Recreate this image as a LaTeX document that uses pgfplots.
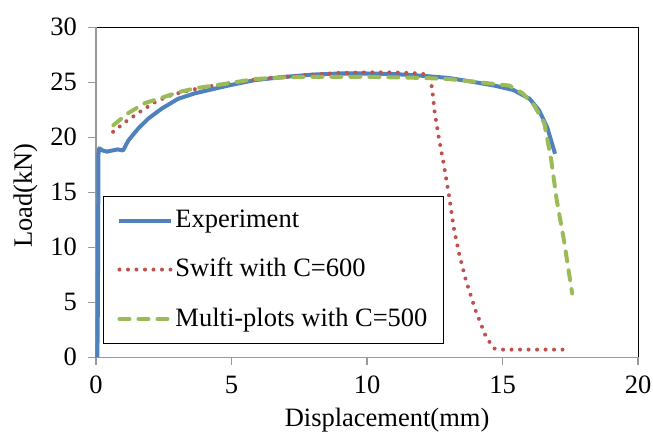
\documentclass[border=0pt]{standalone}
\usepackage{fontspec}
\setmainfont{Liberation Serif}
\usepackage{pgfplots}
\pgfplotsset{compat=1.18}
\definecolor{cblue}{HTML}{4F81BD}
\definecolor{cred}{HTML}{C0504D}
\definecolor{cgreen}{HTML}{9BBB59}
\begin{document}
\fontsize{26.5bp}{31bp}\selectfont
\begin{tikzpicture}
\useasboundingbox (0,0) rectangle (653bp,437bp);
\begin{axis}[
  at={(96bp,79.7bp)}, anchor=south west,
  scale only axis, width=542bp, height=330bp,
  xmin=0, xmax=20, ymin=0, ymax=30,
  xtick={0,5,10,15,20}, ytick={0,5,10,15,20,25,30},
  axis lines=left,
  axis line style={-, draw=gray!80, line width=1.2bp},
  axis background/.style={draw=black, line width=1bp},
  tick align=outside,
  major tick length=8bp,
  tick style={draw=gray!80, line width=1.2bp},
  /pgf/number format/assume math mode=true,
  ticklabel style={font=\fontsize{26.5bp}{31bp}\selectfont},
  xticklabel style={anchor=north, yshift=-2bp},
  yticklabel style={anchor=east, xshift=-2bp},
  xlabel={Displacement(mm)},
  ylabel={Load(kN)},
  xlabel style={at={(axis description cs:0.537,-0.19)}, anchor=center, font=\fontsize{26.5bp}{31bp}\selectfont},
  ylabel style={at={(axis description cs:-0.13,0.49)}, anchor=center, rotate=0, font=\fontsize{26.5bp}{31bp}\selectfont},
  legend style={at={(axis description cs:0.0129,0.488)}, anchor=north west,
    draw=black, line width=1bp, fill=white,
    font=\fontsize{26.5bp}{31bp}\selectfont,
    inner xsep=14bp, inner ysep=11bp, row sep=23bp},
  legend cell align=left,
  legend image code/.code={\draw[#1] (0bp,0bp) -- (52bp,0bp);},
  clip=false,
]
\addplot[cblue, line width=4bp, line join=round] coordinates {
(0.05,0) (0.07,5) (0.08,12) (0.09,18.5) (0.12,19.0) (0.25,18.8) (0.4,18.7) (0.6,18.8) (0.8,18.9) (1.0,18.8)
(1.19,19.7) (1.56,20.8) (1.93,21.7) (2.42,22.6) (3.03,23.5) (3.65,24.0) (4.87,24.7) (5.86,25.2) (7.0,25.5)
(8.0,25.7) (9.0,25.8) (10,25.8) (11,25.75) (12,25.6) (13,25.4) (14,25.0) (14.7,24.7) (15.4,24.3)
(16.0,23.5) (16.35,22.45) (16.65,20.9) (16.94,18.5)
};
\addlegendentry{Experiment}
\addplot[cred, line width=4bp, line cap=round, dash pattern=on 0bp off 8.5bp] coordinates {
(0.63,20.5) (1.14,21.5) (1.7,22.45) (2.25,23.3) (2.85,23.9) (3.5,24.3) (4.0,24.55) (5.0,24.95) (6.0,25.3) (7.0,25.5)
(8.0,25.7) (9.0,25.85) (10,25.9) (11,25.9) (12,25.8) (12.3,25.6) (12.4,24.5) (12.5,22.2) (12.67,19.7) (12.85,17.3)
(13.04,14.5) (13.2,11.8) (13.4,9.4) (13.65,7) (14.0,4.3) (14.4,1.8) (14.7,0.8) (15,0.7) (17.5,0.7)
};
\addlegendentry{Swift with C=600}
\addplot[cgreen, line width=4bp, line cap=round, dash pattern=on 10bp off 9bp] coordinates {
(0.64,21.1) (1.19,22.2) (1.8,23.1) (2.43,23.6) (3.04,24.1) (3.65,24.45) (4.87,24.9) (5.86,25.3) (7.0,25.45)
(8.0,25.5) (10,25.5) (12,25.4) (13,25.3) (14,25.05) (14.5,24.9) (15.25,24.7) (15.74,24.0) (16.17,22.9) (16.54,21.3)
(16.8,17.9) (17.0,14.3) (17.27,10.6) (17.57,5.8)
};
\addlegendentry{Multi-plots with C=500}
\end{axis}
\end{tikzpicture}
\end{document}
